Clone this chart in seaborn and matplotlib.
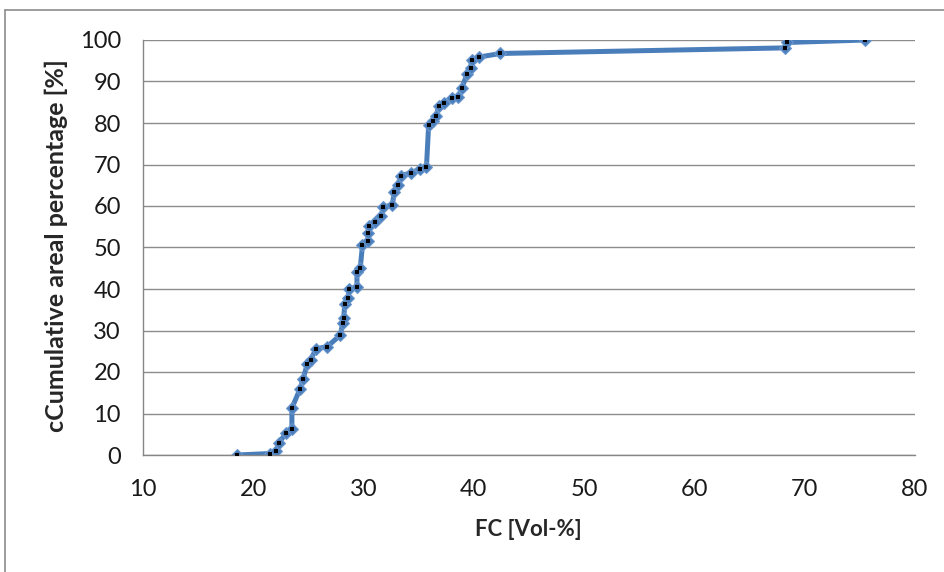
import matplotlib
matplotlib.use("Agg")
import matplotlib.pyplot as plt
import seaborn as sns
import pandas as pd
from matplotlib.lines import Line2D

# Values
fc_vol = [18.5, 21.5, 22.1, 22.3, 23.0, 23.5, 23.5, 24.25, 24.5, 24.9, 25.2, 25.7,
          26.7, 27.9, 28.1, 28.2, 28.3, 28.6, 28.7, 29.4, 29.4, 29.7, 29.9, 30.4,
          30.4, 30.5, 31.0, 31.6, 31.8, 32.6, 32.8, 33.1, 33.4, 34.3, 35.1, 35.7,
          35.9, 36.3, 36.6, 36.8, 37.3, 38.0, 38.6, 38.9, 39.4, 39.7, 39.8, 40.5,
          42.4, 68.2, 68.4, 75.5]
cum_pct = [0.0, 0.35, 1.0, 2.8, 5.4, 6.3, 11.3, 16.0, 18.2, 22.0, 23.0, 25.6,
           26.1, 28.9, 31.8, 33.1, 36.4, 37.9, 40.1, 40.4, 44.1, 45.1, 50.5, 51.5,
           53.6, 55.2, 56.2, 57.7, 59.7, 60.3, 63.4, 65.1, 67.3, 68.0, 68.9, 69.3,
           79.5, 80.5, 81.6, 84.2, 84.9, 86.0, 86.2, 88.4, 91.9, 93.2, 95.2, 95.9,
           96.75, 98.1, 99.4, 100.0]
x_ticks = [10, 20, 30, 40, 50, 60, 70, 80]
y_ticks = [0, 10, 20, 30, 40, 50, 60, 70, 80, 90, 100]

df = pd.DataFrame({"FC": fc_vol, "cum": cum_pct})

sns.set_style("white")
plt.rcParams["font.family"] = ["Lato", "DejaVu Sans"]

fig = plt.figure(figsize=(9.44, 5.72), dpi=100)
ax = fig.add_axes([143 / 944, 1 - 455 / 572, (915 - 143) / 944, (455 - 40) / 572])

# blue line with blue diamonds, tiny black dot in each marker (Excel style)
# estimator=None so repeated x values are not averaged
sns.lineplot(data=df, x="FC", y="cum", sort=False, estimator=None, ax=ax,
             color="#4a7ebb", linewidth=3.6, marker="D", markersize=6,
             markerfacecolor="#4a7ebb", markeredgecolor="#6b97cc", markeredgewidth=0.8)
sns.scatterplot(data=df, x="FC", y="cum", ax=ax, color="black", marker="s",
                s=5, linewidth=0, zorder=5)

ax.set_xlim(10, 80)
ax.set_ylim(0, 100)
ax.set_xticks(x_ticks)
ax.set_yticks(y_ticks)
ax.tick_params(axis="both", labelsize=17, labelcolor="#1a1a1a", length=6,
               direction="out", color="#868686", width=1.0)
ax.tick_params(axis="x", pad=11)
ax.tick_params(axis="y", pad=10)
ax.yaxis.grid(True, color="#8c8c8c", linewidth=1.0)
ax.xaxis.grid(False)
ax.set_axisbelow(True)
for side in ["top", "right"]:
    ax.spines[side].set_visible(False)
for side in ["left", "bottom"]:
    ax.spines[side].set_color("#868686")
    ax.spines[side].set_linewidth(1.0)

ax.set_xlabel("FC [Vol-%]", fontsize=16, fontweight="bold", va="center")
ax.set_ylabel("cCumulative areal percentage [%]", fontsize=18, fontweight="bold", va="center")
ax.xaxis.set_label_coords((528 - 143) / 772, (455 - 530) / 415)
ax.yaxis.set_label_coords((56 - 143) / 772, (455 - 246) / 415)

# outer chart frame
fig.add_artist(Line2D([5 / 944, 1.0], [1 - 10 / 572, 1 - 10 / 572], color="#8c8c8c", linewidth=1.2))
fig.add_artist(Line2D([5 / 944, 5 / 944], [0.0, 1 - 10 / 572], color="#8c8c8c", linewidth=1.2))

fig.savefig("out.png", dpi=100)
